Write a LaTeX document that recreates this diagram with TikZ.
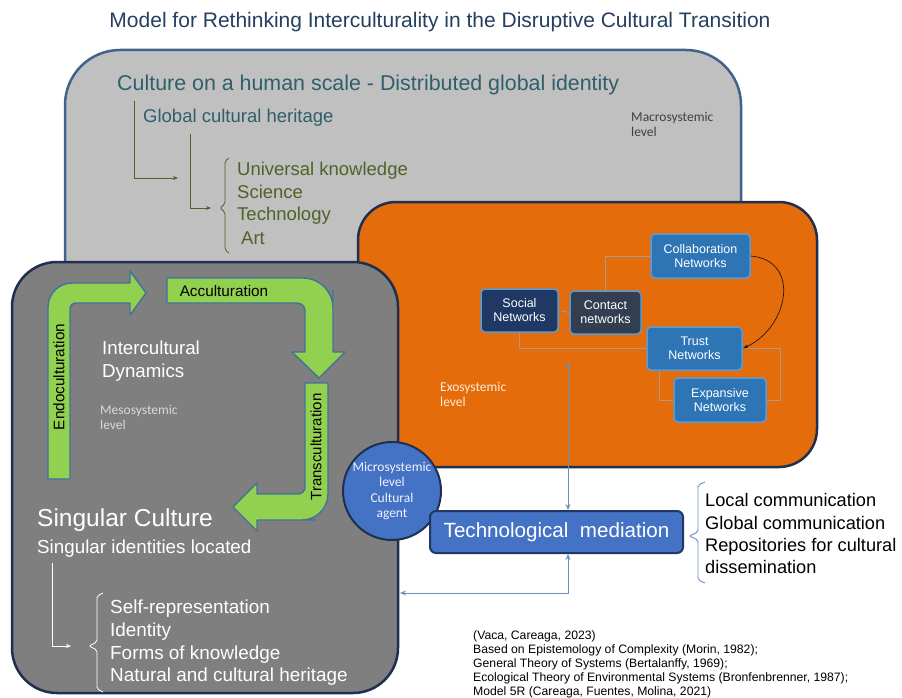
\documentclass[tikz,border=0pt]{standalone}
\usepackage{fontspec}
\setmainfont{Liberation Sans}
\newfontfamily\calibri{Carlito}
\usetikzlibrary{positioning, calc, arrows.meta}
\tikzset{>=latex}
\definecolor{macrofill}{HTML}{C0C0C0}
\definecolor{mesofill}{HTML}{7F7F7F}
\definecolor{exofill}{HTML}{E46C0A}
\definecolor{navy}{HTML}{1F2F4F}
\definecolor{panelblue}{HTML}{41628C}
\definecolor{titleblue}{HTML}{243F60}
\definecolor{headteal}{HTML}{2F5F6B}
\definecolor{myolive}{HTML}{4F6228}
\definecolor{mygreen}{HTML}{92D050}
\definecolor{arrowblue}{HTML}{41719C}
\definecolor{netblue}{HTML}{2E75B6}
\definecolor{netedge}{HTML}{5B9BD5}
\definecolor{socialfill}{HTML}{1F3864}
\definecolor{contactfill}{HTML}{333F50}
\definecolor{agentblue}{HTML}{4472C4}
\definecolor{linkblue}{HTML}{6A90C0}
\definecolor{linkgray}{HTML}{A89A8C}
\tikzset{ % text and box styles
  panel/.style={line width=2.5pt, rounded corners=#1},
  title/.style={inner sep=0, yshift=-2pt, text=titleblue, font=\fontsize{21}{24}\selectfont},
  heading/.style={inner sep=0, anchor=mid west, yshift=-4.5pt, text=headteal, font=\fontsize{#1}{24}\selectfont},
  olive item/.style={inner sep=0, anchor=mid west, yshift=-4.5pt, text=myolive, font=\fontsize{18.5}{20}\selectfont},
  white item/.style={inner sep=0, anchor=mid west, yshift=-4.5pt, text=white, font=\fontsize{#1}{20}\selectfont},
  level/.style={inner sep=0, anchor=north west, align=left, text=#1, font=\calibri\fontsize{13.5}{15.5}\selectfont},
  green arrow/.style={fill=mygreen, draw=arrowblue, line width=1.4pt, line join=round},
  green label/.style={inner sep=0, text=black, font=\fontsize{15.3}{16}\selectfont},
  network/.style={draw=netedge, fill=netblue, line width=1.5pt, rounded corners=4pt, text=white,
    align=center, inner sep=0, font=\fontsize{12.5}{14}\selectfont},
  link/.style={draw=linkgray, line width=0.8pt},
  olive link/.style={draw=myolive, line width=0.8pt, -{Stealth[length=5pt,width=4pt]}},
  white link/.style={draw=white, line width=0.8pt, -{Stealth[length=5pt,width=4pt]}},
  mediation link/.style={draw=linkblue, line width=1pt, {Stealth[length=6pt,width=5pt]}-{Stealth[length=6pt,width=5pt]}},
  list item/.style={inner sep=0, anchor=mid west, yshift=-3.5pt, text=black, font=\fontsize{18.2}{20}\selectfont},
  source/.style={inner sep=0, anchor=mid west, yshift=-2.5pt, text=black, font=\fontsize{12.2}{13}\selectfont}
}

\begin{document}
\begin{tikzpicture}[x=1pt,y=-1pt]
\useasboundingbox (0,0) rectangle (902,698);
\fill[white] (0,0) rectangle (902,698);

\node[title] (title) at (440,20) {Model for Rethinking Interculturality in the Disruptive Cultural Transition};

% macrosystemic level
\filldraw[panel=55pt, fill=macrofill, draw=panelblue] (65,50) rectangle (741,420);
\node[heading=21.4] (human) at (117,83) {Culture on a human scale - Distributed global identity};
\node[heading=18.5] (global) at (143,115) {Global cultural heritage};
\foreach \t/\x/\y [count=\i] in {Universal knowledge/237/168, Science/237/191, Technology/237/213, Art/241/237}
  \node[olive item] (u\i) at (\x,\y) {\t};
\node[level=black!75] (macro level) at (631,112) {Macrosystemic\\level};

\coordinate (human tip) at (178,178);
\coordinate (global tip) at (211,208);
\draw[olive link] ([shift={(17,6)}]human.south west) |- (human tip);
\draw[olive link] ([shift={(47,8)}]global.south west) |- (global tip);
\draw[myolive, line width=0.8pt, rounded corners=2pt]
  (229,158) -- (225,161) -- (225,204) -- (220,208) -- (225,212) -- (225,250) -- (229,253);

% exosystemic level
\filldraw[panel=38pt, fill=exofill, draw=navy] (358,202) rectangle (817,467);
\node[level=orange!15] (exo level) at (440,382) {Exosystemic\\level};

\node[network, fill=socialfill, minimum width=77, minimum height=43] (social) at (519.5,310.5) {Social\\Networks};
\node[network, fill=contactfill, minimum width=71, minimum height=43] (contact) at (605.5,312.5) {Contact\\networks};
\node[network, minimum width=99, minimum height=44] (collab) at (700.5,256) {Collaboration\\Networks};
\node[network, minimum width=95, minimum height=43] (trust) at (694.5,348.5) {Trust\\Networks};
\node[network, minimum width=92, minimum height=44] (expansive) at (720,400) {Expansive\\Networks};

% connections
\draw[link] (social.east) -- (contact.west);
\draw[link] (contact.north) |- (collab.west);
\draw[link] (social.south) |- (trust.west);
\draw[link] ([xshift=13pt]trust.south west) |- (expansive.west);
\draw[link] (trust.east) -| ([xshift=14pt]expansive.east) -- (expansive.east);
\draw[->, black!80!brown, line width=0.7pt] (collab.east) to[out=-5, in=25, looseness=1.4] (trust.east);

% mesosystemic level
\filldraw[panel=45pt, fill=mesofill, draw=navy] (12,262) rectangle (398,693);

% the three culturation arrows
\filldraw[green arrow] (48,479) -- (48,400) [rounded corners=24pt] -- (48,283) -- (100,283) [sharp corners]
  -- (130,283) -- (130,271) -- (146,293) -- (130,315) -- (130,303) -- (100,303) [rounded corners=6pt]
  -- (70,303) -- (70,340) [sharp corners] -- (70,479) -- cycle;
\filldraw[green arrow] (167,278) -- (260,278) [rounded corners=30pt] -- (333,278) -- (333,320) [sharp corners]
  -- (333,352) -- (345,352) -- (319,378) -- (292,352) -- (305,352) -- (305,330) [rounded corners=8pt]
  -- (305,303) -- (260,303) [sharp corners] -- (167,303) -- cycle;
\filldraw[green arrow] (305,383) -- (328,383) -- (328,460) [rounded corners=26pt] -- (328,520) -- (290,520) [sharp corners]
  -- (257,520) -- (257,531) -- (233,507) -- (257,483) -- (257,494) -- (285,494) [rounded corners=7pt]
  -- (305,494) -- (305,460) [sharp corners] -- cycle;
\node[green label, rotate=90] (endo) at (59,377) {Endoculturation};
\node[green label] (accu) at (224,291) {Acculturation};
\node[green label, rotate=90, font=\fontsize{15}{16}\selectfont] (trans) at (316,447) {Transculturation};

\foreach \t/\y [count=\i] in {Intercultural/347, Dynamics/370}
  \node[white item=18.7] (dyn\i) at (102,\y) {\t};
\node[level=black!15] (meso level) at (100,405) {Mesosystemic\\level};
\node[white item=24.5] (singular) at (37,519) {Singular Culture};
\node[white item=18.8] (identities) at (37,546) {Singular identities located};
\foreach \t/\y [count=\i] in {Self-representation/606, Identity/629, Forms of knowledge/652, Natural and cultural heritage/674}
  \node[white item=18.9] (s\i) at (110,\y) {\t};

\coordinate (identities tip) at (71,646);
\draw[white link] ([shift={(15,6)}]identities.south west) |- (identities tip);
\draw[white, line width=0.8pt, rounded corners=2pt]
  (103,593) -- (97,596) -- (97,642) -- (89,646) -- (97,650) -- (97,689) -- (103,692);

% microsystemic level
\node[circle, draw=navy, line width=2pt, fill=agentblue, minimum size=98, inner sep=0, align=center,
  text=blue!5, font=\calibri\fontsize{13.5}{15.5}\selectfont] (agent) at (392,491) {Microsystemic\\level\\Cultural\\agent};

% technological mediation
\node[draw=socialfill, line width=2pt, fill=agentblue, rounded corners=6pt, minimum width=253, minimum height=42,
  text=white, font=\fontsize{20.6}{22}\selectfont] (tech) at (556.5,532) {Technological\ \ mediation};
\coordinate (exo hub) at (568,362);
\coordinate (meso hub) at (400,593);
\draw[mediation link] (exo hub) -- (tech.north -| exo hub);
\draw[mediation link] (tech.south -| exo hub) |- (meso hub);

\draw[linkblue, line width=0.9pt, rounded corners=2pt]
  (705,482) -- (698,485) -- (698,532) -- (689,536) -- (698,540) -- (698,580) -- (705,583);
\foreach \t/\y [count=\i] in {Local communication/500, Global communication/523, Repositories for cultural/545, dissemination/567}
  \node[list item] (c\i) at (705,\y) {\t};

% sources
\foreach \t [count=\i] in {{(Vaca, Careaga, 2023)}, {Based on Epistemology of Complexity (Morin, 1982);},
  {General Theory of Systems (Bertalanffy, 1969);}, {Ecological Theory of Environmental Systems (Bronfenbrenner, 1987);},
  {Model 5R (Careaga, Fuentes, Molina, 2021)}}
  \node[source] (ref\i) at (473,621+13.8*\i) {\t};
\end{tikzpicture}
\end{document}
